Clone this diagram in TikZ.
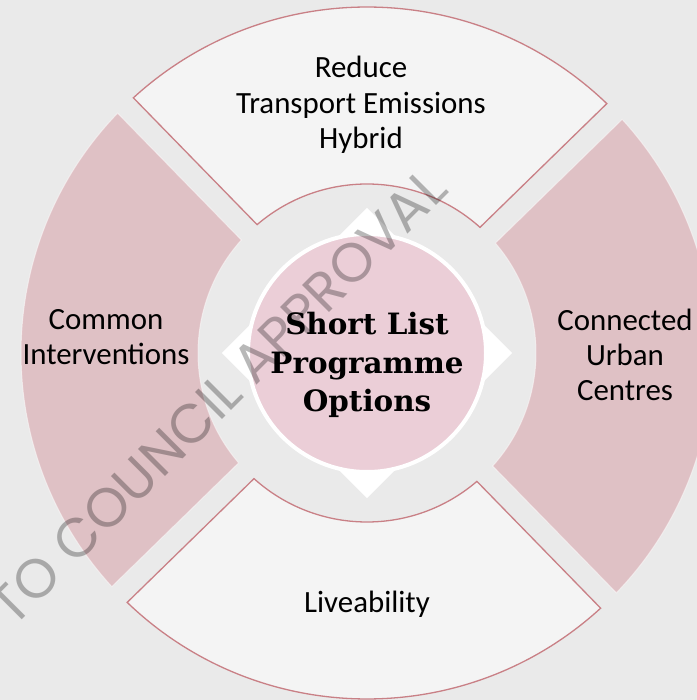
\documentclass[tikz,border=0pt]{standalone}
\usepackage{fontspec}
\newfontfamily\segfont{Carlito}
\newfontfamily\ctrfont{DejaVu Serif}
\newfontfamily\wmfont{Poppins}
\definecolor{bgc}{RGB}{234,234,234}
\definecolor{segL}{RGB}{244,244,244}
\definecolor{segB}{RGB}{201,128,134}
\definecolor{segP}{RGB}{223,193,197}
\definecolor{ctrP}{RGB}{235,206,215}
\newcommand\ringseg[2]{({#1+1.822}:346) arc[start angle={#1+1.822}, end angle={#2-1.822}, radius=346] -- ({#2-3.732}:169) arc[start angle={#2-3.732}, end angle={#1+3.732}, radius=169] -- cycle}
\tikzset{
  lightseg/.style={fill=segL, draw=segB, line width=1.3bp},
  pinkseg/.style={fill=segP, draw=white, draw opacity=0.5, line width=1bp},
  seglabel/.style={font=\segfont\fontsize{31}{35.5}\selectfont, align=center, text=black, inner sep=0pt},
  ctrlabel/.style={font=\ctrfont\bfseries\fontsize{29.5}{38.5}\selectfont, align=center, text=black, inner sep=0pt},
  wmark/.style={font=\wmfont\fontsize{55}{55}\selectfont, text=black, text opacity=0.28, inner sep=0pt}
}
\begin{document}
\begin{tikzpicture}[x=1bp,y=1bp]
\useasboundingbox (-367,-347) rectangle (330,353);
\fill[bgc] (-367,-347) rectangle (330,353);
\clip (-367,-347) rectangle (330,353);
% ring segments
\path[lightseg] \ringseg{44.3}{134.3};
\path[pinkseg] \ringseg{134.3}{224.3};
\path[lightseg] \ringseg{224.3}{314.3};
\path[pinkseg] \ringseg{-45.7}{44.3};
% centre
\fill[white] (145,0) -- (0,145) -- (-145,0) -- (0,-145) -- cycle;
\node[circle, fill=ctrP, draw=white, line width=4bp, minimum size=238bp, inner sep=0pt] (ctr) at (0,0) {};
\node[ctrlabel] (ctrtext) at (0,-12) {Short List\\Programme\\Options};
% labels
\node[seglabel] (top) at (-6,248) {Reduce\\Transport Emissions\\Hybrid};
\node[seglabel] (left) at (-261,16) {Common\\Interventions};
\node[seglabel] (right) at (258,-2) {Connected\\Urban\\Centres};
\node[seglabel, anchor=base] (bottom) at (0,-259) {Liveability};
% watermark
\node[wmark, rotate=45, anchor=base east] (wm) at (83,161) {TO COUNCIL APPROVAL};
\end{tikzpicture}
\end{document}
